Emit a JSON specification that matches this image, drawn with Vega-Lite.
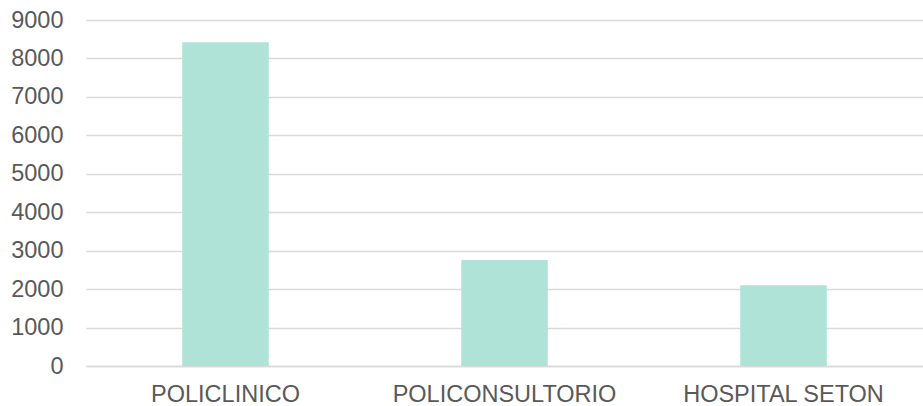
{
  "$schema": "https://vega.github.io/schema/vega-lite/v6.json",
  "width": 837,
  "height": 346,
  "autosize": {"type": "none"},
  "padding": {"left": 86, "top": 20, "right": 0, "bottom": 40},
  "background": "white",
  "config": {"view": {"stroke": null}},
  "data": {"values": [
    {"lugar": "POLICLINICO", "valor": 8420},
    {"lugar": "POLICONSULTORIO", "valor": 2760},
    {"lugar": "HOSPITAL SETON", "valor": 2100}
  ]},
  "mark": {"type": "bar", "color": "#AFE3D7"},
  "encoding": {
    "x": {
      "field": "lugar", "type": "nominal", "sort": null,
      "scale": {"paddingInner": 0.69, "paddingOuter": 0.345},
      "axis": {"title": null, "labelAngle": 0, "ticks": false, "domain": true, "domainColor": "#D9D9D9", "domainWidth": 1.5,
               "labelFont": "Liberation Sans", "labelFontSize": 23.5, "labelColor": "#595959", "labelPadding": 16, "labelLimit": 0}
    },
    "y": {
      "field": "valor", "type": "quantitative",
      "scale": {"domain": [0, 9000], "nice": false},
      "axis": {"title": null, "values": [0,1000,2000,3000,4000,5000,6000,7000,8000,9000], "format": "d",
               "ticks": false, "domain": false, "grid": true, "gridColor": "#D9D9D9", "gridWidth": 1.5,
               "labelFont": "Liberation Sans", "labelFontSize": 23.5, "labelColor": "#595959", "labelPadding": 23}
    }
  }
}
